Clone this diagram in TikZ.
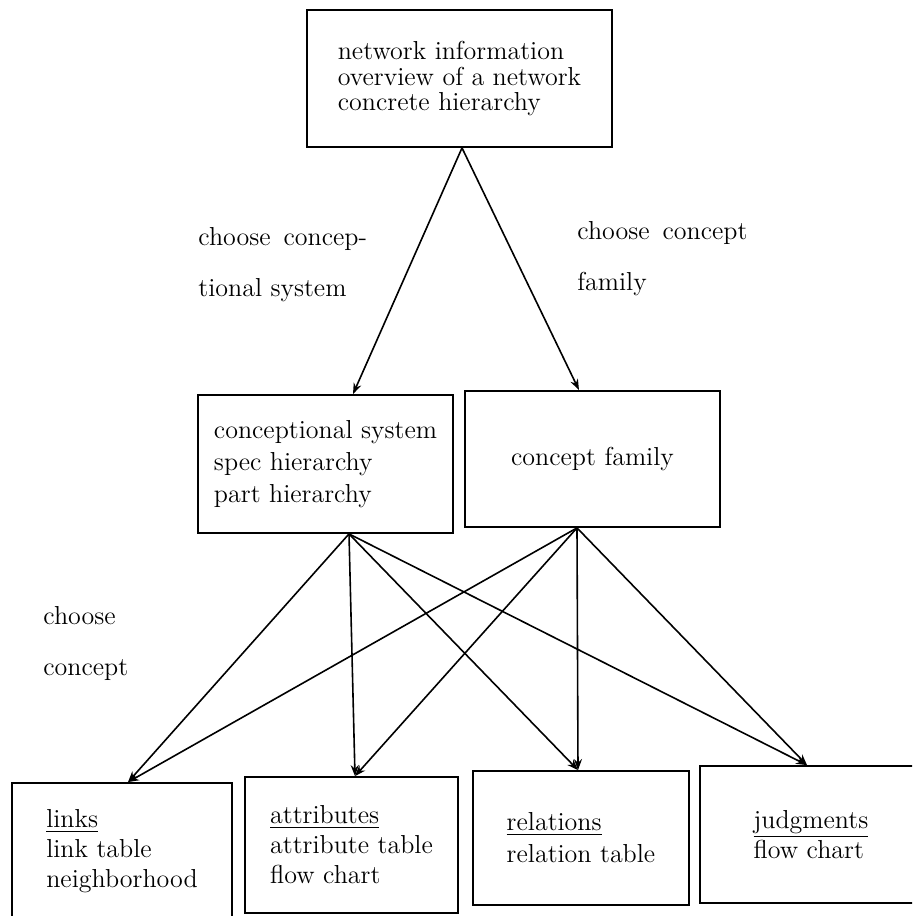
\documentclass[tikz,border=0pt]{standalone}
\usetikzlibrary{arrows.meta}
\begin{document}
\begin{tikzpicture}[x=0.5pt,y=-0.5pt,
  box/.style={draw,line width=0.9pt,rectangle,inner sep=0pt,align=left},
  conn/.style={line width=0.8pt,-{Stealth[length=5.5pt,width=4pt]}},
  lbl/.style={inner sep=0pt,anchor=west,align=left,font=\fontsize{13}{25.5}\selectfont}]
\clip (0,0) rectangle (912,916);
\useasboundingbox (0,0) rectangle (912,916);
\fill[white] (0,0) rectangle (912,916);

% top level
\node[box,minimum width=152.5pt,minimum height=68.5pt,font=\fontsize{13}{12.75}\selectfont]
  (net) at (459.5,78.5) {network information\\overview of a network\\concrete hierarchy};

% middle level
\node[box,minimum width=127.5pt,minimum height=69pt,font=\fontsize{13}{16}\selectfont]
  (csys) at (325.5,464) {conceptional system\\spec hierarchy\\part hierarchy};
\node[box,minimum width=127.5pt,minimum height=68pt,font=\fontsize{13}{16}\selectfont]
  (cfam) at (592.5,459) {concept family};

% bottom level
\node[box,minimum width=110pt,minimum height=68.5pt,font=\fontsize{13}{15}\selectfont]
  (links) at (122,851.5) {\underline{links}\\link table\\neighborhood};
\node[box,minimum width=106.5pt,minimum height=68pt,font=\fontsize{13}{15}\selectfont]
  (attr) at (351.5,845) {\underline{attributes}\\attribute table\\flow chart};
\node[box,minimum width=108pt,minimum height=67pt,font=\fontsize{13}{16}\selectfont]
  (rel) at (581,838) {\underline{relations}\\relation table};
\node[box,minimum width=111pt,minimum height=68.5pt,font=\fontsize{13}{15}\selectfont]
  (jud) at (811,834.5) {\underline{judgments}\\flow chart};

% labels
\node[lbl] (l1) at (198,265) {choose\hspace{0.5em}concep-\\tional system};
\node[lbl] (l2) at (577,259) {choose\hspace{0.5em}concept\\family};
\node[lbl] (l3) at (43,643) {choose\\concept};

% connectors from the top box
\draw[conn] ([xshift=1.25pt]net.south) -- ([xshift=13.75pt]csys.north);
\draw[conn] ([xshift=1.25pt]net.south) -- ([xshift=-6.75pt]cfam.north);

% connectors from the conceptional system
\draw[conn] ([xshift=11.75pt]csys.south) -- ([xshift=3pt]links.north);
\draw[conn] ([xshift=11.75pt]csys.south) -- ([xshift=1.75pt]attr.north);
\draw[conn] ([xshift=11.75pt]csys.south) -- ([xshift=-1.5pt]rel.north);
\draw[conn] ([xshift=11.75pt]csys.south) -- ([xshift=-2pt]jud.north);

% connectors from the concept family
\draw[conn] ([xshift=-7.75pt]cfam.south) -- ([xshift=3pt]links.north);
\draw[conn] ([xshift=-7.75pt]cfam.south) -- ([xshift=1.75pt]attr.north);
\draw[conn] ([xshift=-7.75pt]cfam.south) -- ([xshift=-1.5pt]rel.north);
\draw[conn] ([xshift=-7.75pt]cfam.south) -- ([xshift=-2pt]jud.north);
\end{tikzpicture}
\end{document}
